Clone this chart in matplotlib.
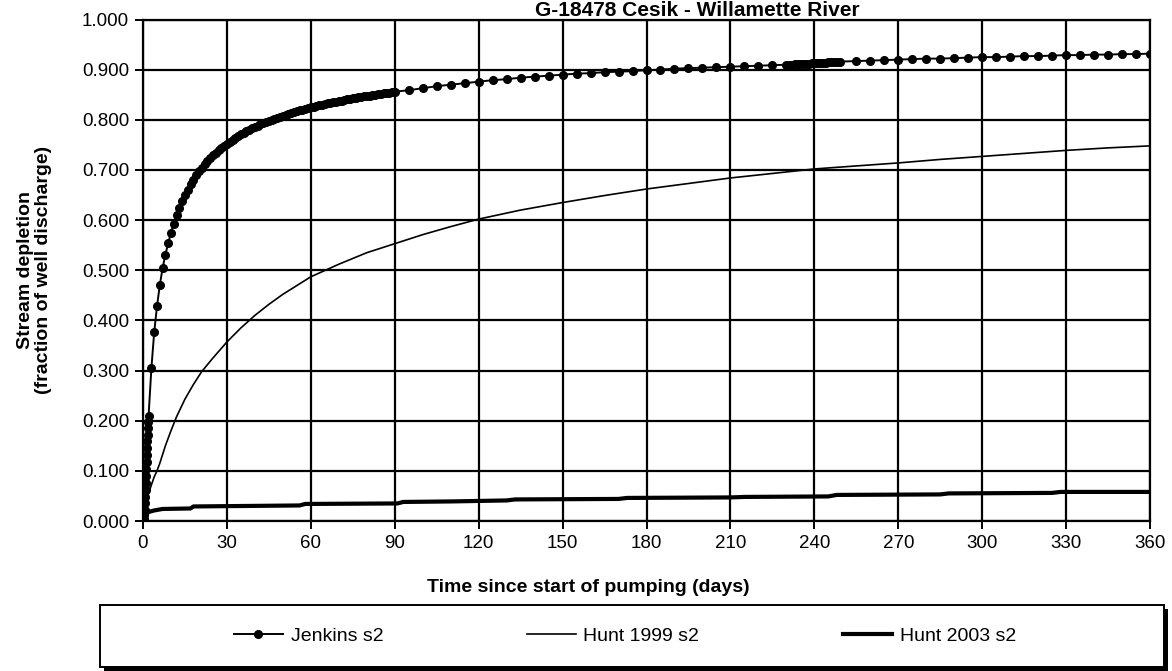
import numpy as np
import matplotlib.pyplot as plt
from matplotlib.lines import Line2D
from matplotlib.patches import Rectangle

plt.rcParams['font.family'] = ['Liberation Sans', 'DejaVu Sans']

# ---- data ----
# Jenkins s2 (markers: 0.1 day steps to 2 d, daily to 90 d, then mostly every 5 d)
jenkins_days = np.concatenate([
    np.round(np.arange(0, 2, 0.1), 1),
    np.arange(2, 91),
    np.arange(95, 230, 5),
    np.arange(230, 250),
    np.arange(255, 361, 5),
])
jenkins_vals = [
    0.000, 0.000, 0.000, 0.001, 0.004, 0.012, 0.022, 0.035, 0.048, 0.062,
    0.076, 0.090, 0.104, 0.118, 0.132, 0.146, 0.159, 0.172, 0.185, 0.197,
    # daily 2-90
    0.210, 0.305, 0.376, 0.428, 0.470, 0.504, 0.531, 0.554, 0.575, 0.593,
    0.610, 0.625, 0.638, 0.650, 0.661, 0.671, 0.680, 0.689, 0.697, 0.704,
    0.711, 0.717, 0.723, 0.729, 0.734, 0.739, 0.744, 0.748, 0.752, 0.756,
    0.760, 0.764, 0.767, 0.771, 0.774, 0.777, 0.780, 0.783, 0.786, 0.788,
    0.791, 0.793, 0.796, 0.798, 0.800, 0.802, 0.804, 0.806, 0.808, 0.810,
    0.812, 0.814, 0.815, 0.817, 0.819, 0.820, 0.822, 0.823, 0.825, 0.826,
    0.827, 0.829, 0.830, 0.831, 0.833, 0.834, 0.835, 0.836, 0.837, 0.838,
    0.840, 0.841, 0.842, 0.843, 0.844, 0.845, 0.846, 0.847, 0.848, 0.848,
    0.849, 0.850, 0.851, 0.852, 0.853, 0.854, 0.854, 0.855, 0.856,
    # 95-225 every 5
    0.859, 0.863, 0.867, 0.870, 0.873, 0.876, 0.879, 0.881, 0.884, 0.886,
    0.888, 0.890, 0.892, 0.893, 0.895, 0.896, 0.897, 0.899, 0.900, 0.902,
    0.903, 0.904, 0.905, 0.906, 0.907, 0.908, 0.909,
    # daily 230-249
    0.910, 0.910, 0.910, 0.911, 0.911, 0.911, 0.912, 0.912, 0.912, 0.913,
    0.913, 0.913, 0.914, 0.914, 0.914, 0.915, 0.915, 0.915, 0.916, 0.916,
    # 255-360 every 5
    0.917, 0.918, 0.919, 0.920, 0.921, 0.922, 0.922, 0.923, 0.924, 0.925,
    0.925, 0.926, 0.927, 0.927, 0.928, 0.929, 0.929, 0.930, 0.930, 0.931,
    0.931, 0.932,
]

# Hunt 1999 s2
hunt99_days = [0, 0.5, 1, 2, 3, 4, 5, 6, 8, 10, 12, 15, 18, 21, 25, 30, 35, 40,
               45, 50, 60, 70, 80, 90, 100, 110, 120, 135, 150, 165, 180, 195,
               210, 225, 240, 255, 270, 285, 300, 315, 330, 345, 360]
hunt99_vals = [0.0, 0.020, 0.035, 0.055, 0.072, 0.088, 0.100, 0.115, 0.150,
               0.180, 0.208, 0.243, 0.272, 0.298, 0.325, 0.357, 0.385, 0.410,
               0.432, 0.452, 0.487, 0.512, 0.535, 0.553, 0.571, 0.587, 0.602,
               0.620, 0.635, 0.649, 0.662, 0.673, 0.684, 0.693, 0.702, 0.708,
               0.714, 0.721, 0.727, 0.733, 0.739, 0.744, 0.748]

# Hunt 2003 s2
hunt03_days = [0, 1, 2, 4, 7, 17, 18, 56, 58, 91, 93, 110, 130, 133, 170, 173,
               210, 215, 245, 248, 285, 288, 325, 328, 360]
hunt03_vals = [0.0, 0.012, 0.018, 0.021, 0.024, 0.025, 0.029, 0.031, 0.034,
               0.035, 0.038, 0.039, 0.041, 0.043, 0.044, 0.046, 0.047, 0.048,
               0.049, 0.052, 0.053, 0.055, 0.056, 0.058, 0.058]

x_ticks = np.arange(0, 361, 30)
y_ticks = np.arange(0, 1.001, 0.1)

# ---- figure ----
fig = plt.figure(figsize=(11.72, 6.71), dpi=100)
ax = fig.add_axes([143/1172, 1 - 521/671, 1007/1172, 501.5/671])

ax.plot(jenkins_days, jenkins_vals, color='black', lw=1.4, marker='o',
        ms=5.5, label='Jenkins s2', zorder=4)
ax.plot(hunt99_days, hunt99_vals, color='black', lw=1.2, label='Hunt 1999 s2', zorder=3)
ax.plot(hunt03_days, hunt03_vals, color='black', lw=3.0, label='Hunt 2003 s2', zorder=3)

ax.set_xlim(0, 360)
ax.set_ylim(0, 1.0)
ax.set_xticks(x_ticks)
ax.set_yticks(y_ticks)
ax.set_yticklabels(['%.3f' % v for v in y_ticks])
ax.grid(True, color='black', lw=1.6)
ax.set_axisbelow(True)
for s in ax.spines.values():
    s.set_color('black')
    s.set_linewidth(1.6)
ax.tick_params(direction='out', length=6, width=1.4, labelsize=13.5, pad=4)

ax.set_xlabel('Time since start of pumping (days)', fontsize=14, fontweight='bold')
ax.xaxis.set_label_coords((588 - 143) / 1007, -0.115)
ax.set_ylabel('Stream depletion\n(fraction of well discharge)', fontsize=14,
              fontweight='bold', linespacing=1.1)
ax.yaxis.set_label_coords(-0.09, 0.5)

# title sits right at the top edge (cut off in the original)
fig.text(697/1172, 1 - 16/671, 'G-18478 Cesik - Willamette River', ha='center',
         va='baseline', fontsize=15, fontweight='bold')

# legend box with shadow
fig.patches.append(Rectangle((104/1172, 1 - 671/671), 1064/1172, 62/671,
                             transform=fig.transFigure, facecolor='black',
                             edgecolor='none'))
fig.patches.append(Rectangle((100/1172, 1 - 667/671), 1064/1172, 62/671,
                             transform=fig.transFigure, facecolor='white',
                             edgecolor='black', lw=1.4))
handles = [
    Line2D([0, 0.5, 1], [0, 0, 0], color='black', lw=1.4, marker='o', ms=5.5,
           markevery=[1]),
    Line2D([], [], color='black', lw=1.2),
    Line2D([], [], color='black', lw=3.0),
]
fig.legend(handles, ['Jenkins s2', 'Hunt 1999 s2', 'Hunt 2003 s2'], ncol=3,
           loc='center', bbox_to_anchor=(625/1172, 1 - 636/671), frameon=False,
           fontsize=14, handlelength=2.5, handletextpad=0.4, columnspacing=7.4)

fig.savefig('out.png', dpi=100)
